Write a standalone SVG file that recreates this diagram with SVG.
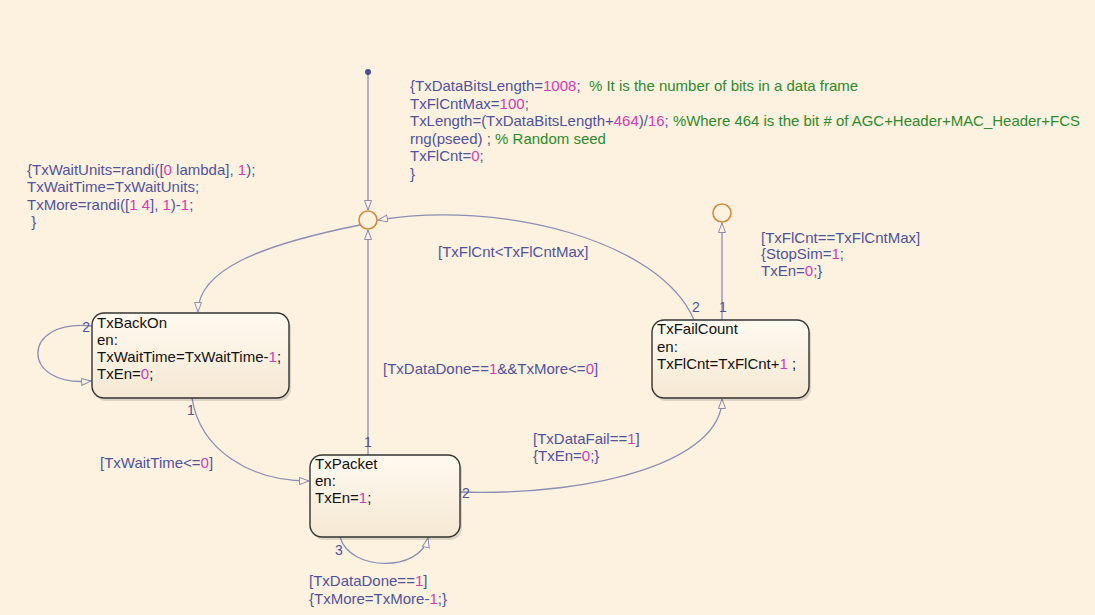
<svg xmlns="http://www.w3.org/2000/svg" width="1095" height="615" viewBox="0 0 1095 615">
<defs>
<style>
text{font-family:"Liberation Sans",Arial,sans-serif;font-size:15px}
.st{fill:#111}
.lb{fill:#50529c}
.n{fill:#d23bb5}
.c{fill:#2d8a2d}
.pn{fill:#50529c;font-size:14px}
.state{fill:url(#sg);stroke:#333;stroke-width:1.4}
.shadow{fill:#000;opacity:0.12}
.tr{fill:none;stroke:#8c8db5;stroke-width:1.3;marker-end:url(#ah)}
.junc{fill:none;stroke:#d48a3c;stroke-width:1.6}
</style>
<linearGradient id="sg" x1="0" y1="0" x2="0" y2="1">
<stop offset="0" stop-color="#fffaf0"/>
<stop offset="1" stop-color="#f5e8d3"/>
</linearGradient>
<marker id="ah" markerUnits="userSpaceOnUse" markerWidth="12" markerHeight="10" refX="10" refY="4" orient="auto">
<path d="M0.5,0.5 L10,4 L0.5,7.5 z" fill="#fdf2e0" stroke="#8c8db5" stroke-width="1"/>
</marker>
</defs>
<rect width="1095" height="615" fill="#fdf2e0"/>

<g id="connectors">
<path class="tr" d="M368,74 L368,210"/>
<path class="tr" d="M360,225 C260,245 198,270 198,312"/>
<path class="tr" d="M92,326 C20,318 20,388 91,381"/>
<path class="tr" d="M192,398 C200,450 250,481 309,481"/>
<path class="tr" d="M368,455 L368,230"/>
<path class="tr" d="M460,492 C600,496 722,460 722,399"/>
<path class="tr" d="M340,537 C350,572 420,572 428,538"/>
<path class="tr" d="M694,320 C660,240 500,200 378,220"/>
<path class="tr" d="M722,320 L722,223"/>
<circle cx="368" cy="72" r="3" fill="#4a4f9a"/>
</g>

<g id="junction1"><circle class="junc" cx="368" cy="220" r="9"/></g>
<g id="junction2"><circle class="junc" cx="722" cy="213" r="9"/></g>

<g id="TxBackOn">
<rect class="shadow" x="94" y="316" width="197" height="85" rx="12"/>
<rect class="state" x="92" y="313" width="197" height="85" rx="12"/>
<text class="st" x="97" y="328">TxBackOn</text>
<text class="st" x="97" y="345">en:</text>
<text class="st" x="97" y="362">TxWaitTime=TxWaitTime-<tspan class="n">1</tspan>;</text>
<text class="st" x="97" y="379">TxEn=<tspan class="n">0</tspan>;</text>
</g>

<g id="TxPacket">
<rect class="shadow" x="312" y="458" width="150" height="82" rx="12"/>
<rect class="state" x="310" y="455" width="150" height="82" rx="12"/>
<text class="st" x="315" y="469">TxPacket</text>
<text class="st" x="315" y="486">en:</text>
<text class="st" x="315" y="503">TxEn=<tspan class="n">1</tspan>;</text>
</g>

<g id="TxFailCount">
<rect class="shadow" x="654" y="323" width="157" height="78" rx="12"/>
<rect class="state" x="652" y="320" width="157" height="78" rx="12"/>
<text class="st" x="657" y="334">TxFailCount</text>
<text class="st" x="657" y="352">en:</text>
<text class="st" x="657" y="369">TxFlCnt=TxFlCnt+<tspan class="n">1</tspan> ;</text>
</g>

<g id="labels">
<text class="lb" x="410" y="91">{TxDataBitsLength=<tspan class="n">1008</tspan>;&#160; <tspan class="c">% It is the number of bits in a data frame</tspan></text>
<text class="lb" x="410" y="109">TxFlCntMax=<tspan class="n">100</tspan>;</text>
<text class="lb" x="410" y="126" textLength="670" lengthAdjust="spacingAndGlyphs">TxLength=(TxDataBitsLength+<tspan class="n">464</tspan>)/<tspan class="n">16</tspan>; <tspan class="c">%Where 464 is the bit # of AGC+Header+MAC_Header+FCS</tspan></text>
<text class="lb" x="410" y="144">rng(pseed) ; <tspan class="c">% Random seed</tspan></text>
<text class="lb" x="410" y="161">TxFlCnt=<tspan class="n">0</tspan>;</text>
<text class="lb" x="410" y="179">}</text>

<text class="lb" x="27" y="175">{TxWaitUnits=randi([<tspan class="n">0</tspan> lambda], <tspan class="n">1</tspan>);</text>
<text class="lb" x="27" y="192">TxWaitTime=TxWaitUnits;</text>
<text class="lb" x="27" y="210">TxMore=randi([<tspan class="n">1 4</tspan>], <tspan class="n">1</tspan>)-<tspan class="n">1</tspan>;</text>
<text class="lb" x="27" y="227">&#160;}</text>

<text class="lb" x="438" y="257">[TxFlCnt&lt;TxFlCntMax]</text>
<text class="lb" x="761" y="243">[TxFlCnt==TxFlCntMax]</text>
<text class="lb" x="761" y="259">{StopSim=<tspan class="n">1</tspan>;</text>
<text class="lb" x="761" y="276">TxEn=<tspan class="n">0</tspan>;}</text>
<text class="lb" x="383" y="374">[TxDataDone==<tspan class="n">1</tspan>&amp;&amp;TxMore&lt;=<tspan class="n">0</tspan>]</text>
<text class="lb" x="533" y="444">[TxDataFail==<tspan class="n">1</tspan>]</text>
<text class="lb" x="533" y="461">{TxEn=<tspan class="n">0</tspan>;}</text>
<text class="lb" x="100" y="468">[TxWaitTime&lt;=<tspan class="n">0</tspan>]</text>
<text class="lb" x="309" y="586">[TxDataDone==<tspan class="n">1</tspan>]</text>
<text class="lb" x="309" y="604">{TxMore=TxMore-<tspan class="n">1</tspan>;}</text>

<text class="pn" x="90" y="332" text-anchor="end">2</text>
<text class="pn" x="191" y="415" text-anchor="middle">1</text>
<text class="pn" x="368" y="447" text-anchor="middle">1</text>
<text class="pn" x="462" y="498">2</text>
<text class="pn" x="339" y="555" text-anchor="middle">3</text>
<text class="pn" x="696" y="312" text-anchor="middle">2</text>
<text class="pn" x="723" y="312" text-anchor="middle">1</text>
</g>
</svg>
